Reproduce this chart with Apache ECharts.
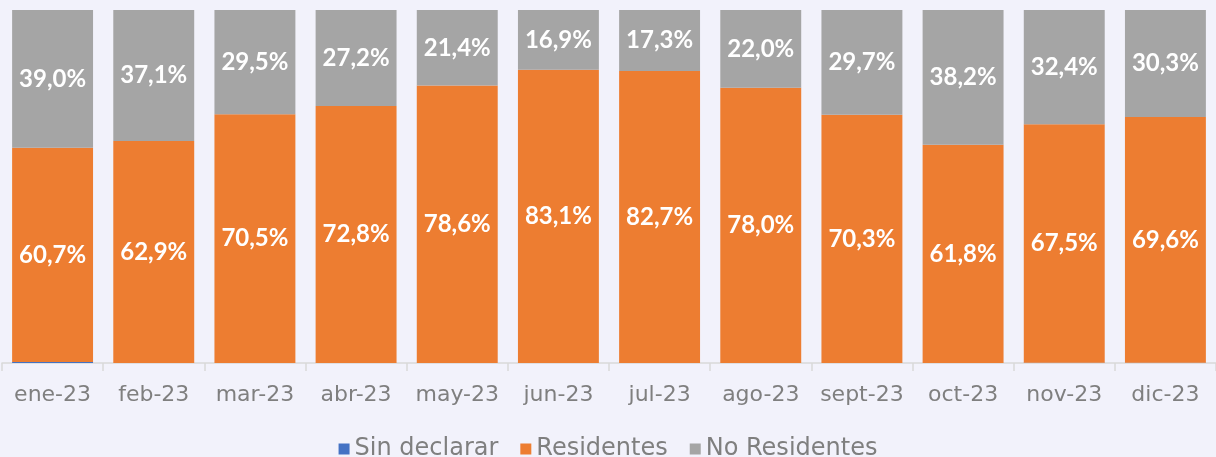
<!DOCTYPE html>
<html><head><meta charset="utf-8">
<script src="https://cdn.jsdelivr.net/npm/echarts@6/dist/echarts.min.js"></script>
<style>html,body{margin:0;padding:0;background:#F2F2FB;}#c{width:1216px;height:457px;}</style>
</head><body><div id="c"></div>
<script>
const categories = ['ene-23','feb-23','mar-23','abr-23','may-23','jun-23','jul-23','ago-23','sept-23','oct-23','nov-23','dic-23'];
const sinDeclarar = [0.3,0.0,0.0,0.0,0.0,0.0,0.0,0.0,0.0,0.0,0.1,0.1];
const residentes = [60.7,62.9,70.5,72.8,78.6,83.1,82.7,78.0,70.3,61.8,67.5,69.6];
const noResidentes = [39.0,37.1,29.5,27.2,21.4,16.9,17.3,22.0,29.7,38.2,32.4,30.3];

const LFONT = 'Lato, "DejaVu Sans", sans-serif';
const AFONT = '"DejaVu Sans", sans-serif';
const fmt = p => p.value.toFixed(1).replace('.', ',') + '%';
const lbl = {show:true, position:'inside', color:'#fff', fontWeight:'bold', fontSize:24, fontFamily:LFONT, formatter:fmt};

const chart = echarts.init(document.getElementById('c'), null, {renderer:'canvas'});
chart.setOption({
  backgroundColor:'#F2F2FB',
  animation:false,
  grid:{left:2, right:-8, top:10, bottom:94, containLabel:false},
  legend:{top:432, left:'center', itemWidth:11, itemHeight:11, itemGap:22,
    textStyle:{color:'#7F7F7F', fontSize:24, fontFamily:AFONT},
    icon:'rect',
    data:['Sin declarar','Residentes','No Residentes']},
  xAxis:{type:'category', data:categories,
    axisLine:{lineStyle:{color:'#D9D9D9', width:1.5}},
    axisTick:{show:true, length:8, lineStyle:{color:'#D9D9D9', width:1.5}},
    axisLabel:{color:'#7F7F7F', fontSize:22, fontFamily:AFONT, margin:21, interval:0}},
  yAxis:{type:'value', min:0, max:100, show:false},
  series:[
    {name:'Sin declarar', type:'bar', stack:'t', data:sinDeclarar, itemStyle:{color:'#4472C4'}, barCategoryGap:'20%'},
    {name:'Residentes', type:'bar', stack:'t', data:residentes, itemStyle:{color:'#ED7D31'}, label:lbl, barCategoryGap:'20%'},
    {name:'No Residentes', type:'bar', stack:'t', data:noResidentes, itemStyle:{color:'#A5A5A5'}, label:lbl, barCategoryGap:'20%'}
  ]
});
</script></body></html>
